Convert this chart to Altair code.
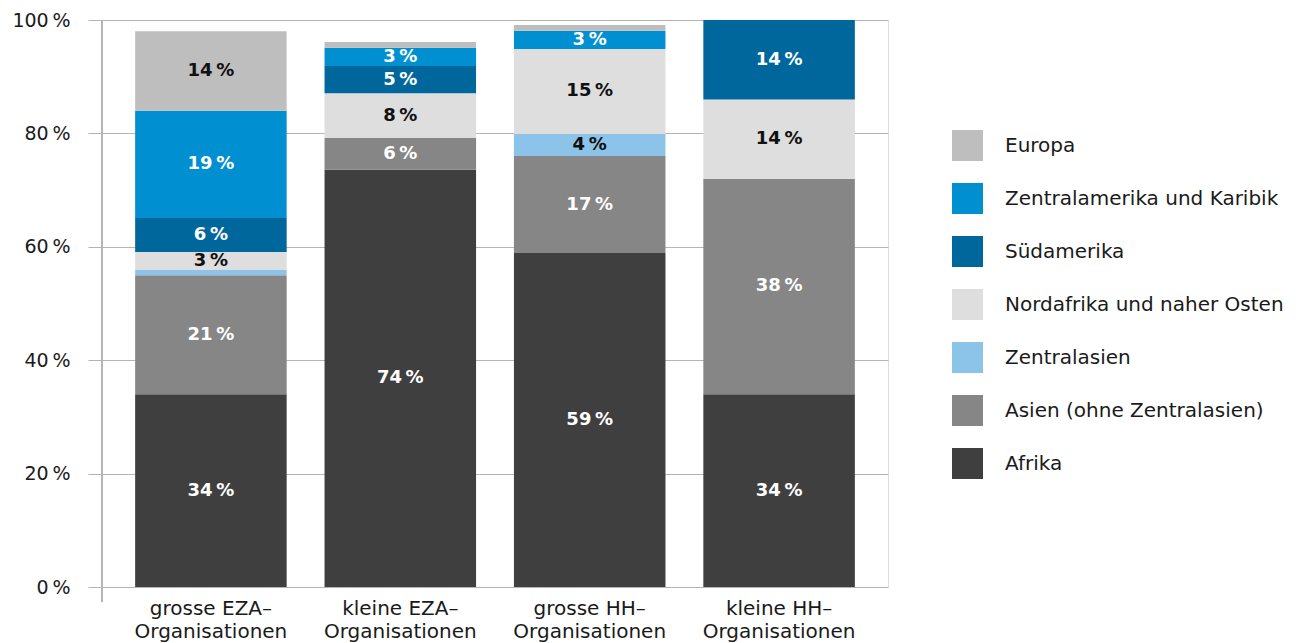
import altair as alt
import pandas as pd

categories = ["grosse EZA–Organisationen", "kleine EZA–Organisationen",
              "grosse HH–Organisationen", "kleine HH–Organisationen"]
regions = ["Afrika", "Asien (ohne Zentralasien)", "Zentralasien",
           "Nordafrika und naher Osten", "Südamerika",
           "Zentralamerika und Karibik", "Europa"]
afrika = [34.0, 73.6, 58.9, 34.0]
asien = [21.0, 5.6, 17.1, 38.0]
zentralasien = [0.9, 0.0, 3.9, 0.0]
nordafrika = [3.2, 7.9, 15.0, 14.0]
suedamerika = [6.0, 4.8, 0.0, 14.0]
zentralamerika = [18.9, 3.2, 3.2, 0.0]
europa = [14.0, 1.0, 1.0, 0.0]

series = [afrika, asien, zentralasien, nordafrika, suedamerika, zentralamerika, europa]
colors = ["#3f3f3f", "#868686", "#8bc4e8", "#dedede", "#00679d", "#0090d1", "#bebebe"]
dark_text = ["Zentralasien", "Nordafrika und naher Osten", "Europa"]

rows = []
for i, (reg, vals) in enumerate(zip(regions, series)):
    for cat, v in zip(categories, vals):
        rows.append({"category": cat, "region": reg, "value": v, "order": i})
df = pd.DataFrame(rows)

grid = "#b4b4b4"
FONT = "DejaVu Sans"

base = alt.Chart(df).transform_stack(
    stack="value", groupby=["category"], as_=["y0", "y1"],
    sort=[alt.SortField("order", order="ascending")]
)

x_enc = alt.X("category:N", sort=categories, title=None,
              scale=alt.Scale(paddingInner=0.2, paddingOuter=0.175),
              axis=alt.Axis(domain=False, ticks=False, labelAngle=0,
                            labelFontSize=20, labelColor="#1a1a1a", labelFont=FONT,
                            labelPadding=11, labelLineHeight=23,
                            labelExpr="[slice(datum.value, 0, indexof(datum.value, '–') + 1), slice(datum.value, indexof(datum.value, '–') + 1)]"))

bars = base.mark_bar(strokeWidth=0).encode(
    x=x_enc,
    y=alt.Y("y0:Q", title=None,
            scale=alt.Scale(domain=[0, 100], nice=False),
            axis=alt.Axis(values=[0, 20, 40, 60, 80, 100], grid=True, gridColor=grid,
                          gridWidth=1, domain=False, tickSize=14, tickColor=grid,
                          labelPadding=18, labelFontSize=19, labelFont=FONT,
                          labelColor="#1a1a1a",
                          labelExpr="datum.value + '\u202f%'")),
    y2="y1:Q",
    color=alt.Color("region:N", title=None,
                    scale=alt.Scale(domain=regions[::-1], range=colors[::-1]),
                    legend=alt.Legend(orient="none", legendX=850, legendY=110,
                                      symbolType="square", symbolSize=961,
                                      symbolStrokeWidth=0, symbolOpacity=1,
                                      labelFontSize=20, labelFont=FONT,
                                      labelColor="#1a1a1a", labelOffset=22,
                                      rowPadding=22, padding=0, labelLimit=400)),
)

labels = base.transform_filter("datum.value >= 2.5").transform_calculate(
    mid="(datum.y0 + datum.y1) / 2",
    lab="format(datum.value, '.0f') + '\u202f%'"
).mark_text(font=FONT, fontSize=18, fontWeight="bold", baseline="middle").encode(
    x=alt.X("category:N", sort=categories),
    y=alt.Y("mid:Q"),
    text="lab:N",
    color=alt.condition(alt.FieldOneOfPredicate(field="region", oneOf=dark_text),
                        alt.value("#111111"), alt.value("#ffffff")),
)

yline = alt.Chart(df).mark_rule(color=grid, strokeWidth=1).encode(
    x=alt.value(0), y=alt.value(0), y2=alt.value(582)
)

chart = alt.layer(bars, labels, yline).properties(
    width=786, height=567,
    padding={"left": 3, "top": 3, "right": 5, "bottom": 5}
).configure_view(stroke=None).configure(font=FONT)

chart.save("out.html", embed_options={"renderer": "svg", "actions": False})
